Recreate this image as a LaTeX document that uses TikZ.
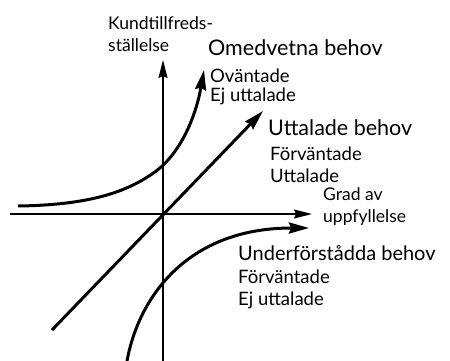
\documentclass[tikz,border=0pt]{standalone}
\usepackage{fontspec}
\setmainfont{Lato}
\usetikzlibrary{arrows.meta}

\begin{document}
\begin{tikzpicture}[
  x=1pt, y=-1pt,
  axis/.style={line width=1.3pt, -{Stealth[length=18pt, width=9pt, inset=2pt]}},
  curve/.style={line width=3pt, -{Stealth[length=20pt, width=11pt, inset=2pt]}},
  lbl/.style={anchor=base west, inner sep=0pt, font=\fontsize{18.5}{22}\selectfont},
  biglbl/.style={anchor=base west, inner sep=0pt, font=\fontsize{21.5}{26}\selectfont},
  axlbl/.style={anchor=base west, inner sep=0pt, align=left, font=\fontsize{17.5}{22}\selectfont}
]
  \useasboundingbox (0,0) rectangle (450,361);

  % axes
  \coordinate (xleft)  at (10,214);
  \coordinate (xright) at (312,214);
  \coordinate (ybot)   at (163,361);
  \coordinate (ytop)   at (163,60);
  \draw[axis] (xleft) -- (xright);
  \draw[axis] (ybot) -- (ytop);

  % curves
  \coordinate (omStart) at (18,206);
  \coordinate (omEnd)   at (204,70);
  \coordinate (utStart) at (52,330);
  \coordinate (utEnd)   at (263,111);
  \coordinate (unStart) at (127,361);
  \coordinate (unEnd)   at (309,228);
  \draw[curve] (omStart) .. controls (90,205) and (130,192) .. (160,168)
                         .. controls (185,146) and (197,110) .. (omEnd);
  \draw[curve] (utStart) -- (utEnd);
  \draw[curve] (unStart) .. controls (138,300) and (185,228) .. (unEnd);

  % labels (base = last line)
  \node[axlbl]  (ylab)  at (108,52)  {Kundtillfreds-\\ställelse};
  \node[axlbl]  (xlab)  at (323,222) {Grad av\\uppfyllelse};

  \node[biglbl] (om)    at (208,56)  {Omedvetna behov};
  \node[lbl]    (om1)   at (210,83)  {Oväntade};
  \node[lbl]    (om2)   at (210,101) {Ej uttalade};

  \node[biglbl] (ut)    at (268,135) {Uttalade behov};
  \node[lbl]    (ut1)   at (270,160) {Förväntade};
  \node[lbl]    (ut2)   at (270,182) {Uttalade};

  \node[biglbl, font=\fontsize{20}{26}\selectfont] (un) at (238,260) {Underförstådda behov};
  \node[lbl]    (un1)   at (238,283) {Förväntade};
  \node[lbl]    (un2)   at (238,305) {Ej uttalade};
\end{tikzpicture}
\end{document}
